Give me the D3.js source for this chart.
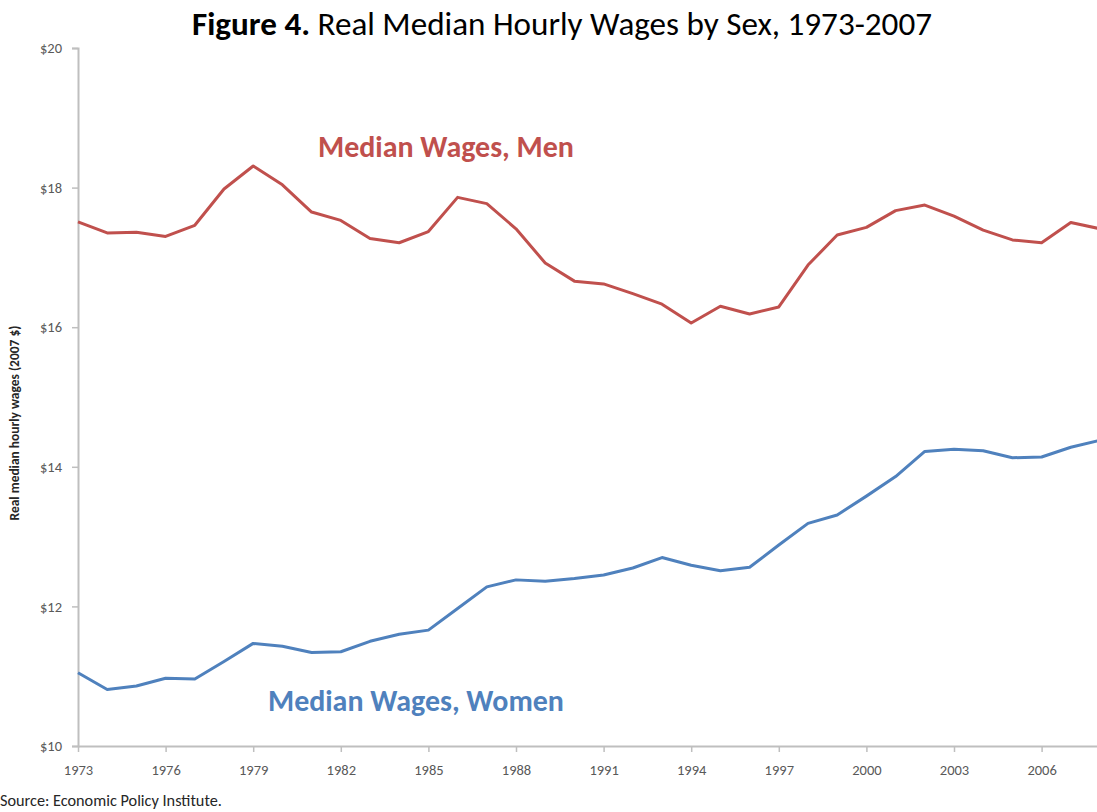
<!DOCTYPE html>
<html>
<head>
<meta charset="utf-8">
<script src="https://cdn.jsdelivr.net/npm/d3@7"></script>
<style>
  html, body { margin: 0; padding: 0; background: #fff; }
  svg { display: block; }
  text { font-family: Carlito, Calibri, Lato, "Open Sans", sans-serif; }
</style>
</head>
<body>
<svg id="chart" width="1097" height="812"></svg>
<script>
// ---- data ----
const years = [1973,1974,1975,1976,1977,1978,1979,1980,1981,1982,1983,1984,1985,1986,1987,1988,1989,1990,
               1991,1992,1993,1994,1995,1996,1997,1998,1999,2000,2001,2002,2003,2004,2005,2006,2007,2008];
const menWages = [17.51,17.35,17.36,17.30,17.46,17.98,18.31,18.04,17.65,17.53,17.27,17.21,17.37,17.86,17.77,17.41,16.92,16.66,
                  16.62,16.48,16.33,16.06,16.30,16.19,16.29,16.89,17.32,17.43,17.67,17.75,17.59,17.39,17.25,17.21,17.50,17.41];
const womenWages = [11.05,10.81,10.86,10.97,10.96,11.21,11.47,11.43,11.34,11.35,11.50,11.60,11.66,11.97,12.28,12.38,12.36,12.40,
                    12.45,12.55,12.70,12.59,12.51,12.56,12.88,13.19,13.31,13.58,13.86,14.22,14.25,14.23,14.13,14.14,14.28,14.38];
const xTickYears = [1973,1976,1979,1982,1985,1988,1991,1994,1997,2000,2003,2006];
const yTicks = [10,12,14,16,18,20];
const titleBold = "Figure 4.";
const titleRest = " Real Median Hourly Wages by Sex, 1973-2007";
const yAxisTitle = "Real median hourly wages (2007 $)";
const menLabel = "Median Wages, Men";
const womenLabel = "Median Wages, Women";
const sourceText = "Source: Economic Policy Institute.";

// ---- layout ----
const W = 1097, H = 812;
const svg = d3.select("#chart");
const x = d3.scaleLinear().domain([1973, 2008]).range([78, 1100]);
const y = d3.scaleLinear().domain([10, 20]).range([746, 48]);

const axisColor = "#BFBFBF";
const labelColor = "#595959";
const menColor = "#C0504D";
const womenColor = "#4F81BD";
const fontStack = "Carlito, Calibri, Lato, 'Open Sans', sans-serif";

function fitText(sel, targetWidth) {
  const node = sel.node();
  const fs = parseFloat(sel.attr("font-size"));
  const w = node.getComputedTextLength();
  if (w > 0) sel.attr("font-size", (fs * targetWidth / w).toFixed(2));
  return sel;
}

// Y axis
const yAxis = d3.axisLeft(y).tickValues(yTicks).tickSize(6).tickPadding(10).tickFormat(d => "$" + d);
const gy = svg.append("g").attr("transform", "translate(78,0)").call(yAxis);
gy.select(".domain").attr("stroke", axisColor).attr("stroke-width", 2);
gy.selectAll(".tick line").attr("stroke", axisColor).attr("stroke-width", 1.5);
gy.selectAll(".tick text").attr("fill", labelColor).attr("font-size", 14.5).style("font-family", fontStack);

// X axis
const xAxis = d3.axisBottom(x).tickValues(xTickYears).tickSize(6).tickSizeOuter(0).tickPadding(13).tickFormat(d3.format("d"));
const gx = svg.append("g").attr("transform", "translate(0,746)").call(xAxis);
gx.select(".domain").attr("stroke", axisColor).attr("stroke-width", 2);
gx.selectAll(".tick line").attr("stroke", axisColor).attr("stroke-width", 1.5);
gx.selectAll(".tick text").attr("fill", labelColor).attr("font-size", 14.5).style("font-family", fontStack);

// Lines
const line = d3.line().x((d, i) => x(years[i])).y(d => y(d));
svg.append("path").datum(menWages).attr("d", line)
  .attr("fill", "none").attr("stroke", menColor).attr("stroke-width", 3).attr("stroke-linejoin", "round");
svg.append("path").datum(womenWages).attr("d", line)
  .attr("fill", "none").attr("stroke", womenColor).attr("stroke-width", 3).attr("stroke-linejoin", "round");

// Title
const title = svg.append("text").attr("x", 192).attr("y", 35).attr("font-size", 28).attr("fill", "#000");
title.append("tspan").attr("font-weight", "bold").text(titleBold);
title.append("tspan").text(titleRest);
fitText(title, 740);

// Series labels
fitText(svg.append("text").attr("x", 318).attr("y", 157).attr("font-size", 26).attr("font-weight", "bold")
  .attr("fill", menColor).text(menLabel), 256);
fitText(svg.append("text").attr("x", 268).attr("y", 711).attr("font-size", 26).attr("font-weight", "bold")
  .attr("fill", womenColor).text(womenLabel), 296);

// Y axis title
fitText(svg.append("text").attr("transform", "translate(19,423) rotate(-90)").attr("text-anchor", "middle")
  .attr("font-size", 12).attr("font-weight", "bold").attr("fill", "#262626").text(yAxisTitle), 195);

// Source
fitText(svg.append("text").attr("x", 0).attr("y", 806).attr("font-size", 13).attr("fill", "#262626").text(sourceText), 222);
</script>
</body>
</html>
